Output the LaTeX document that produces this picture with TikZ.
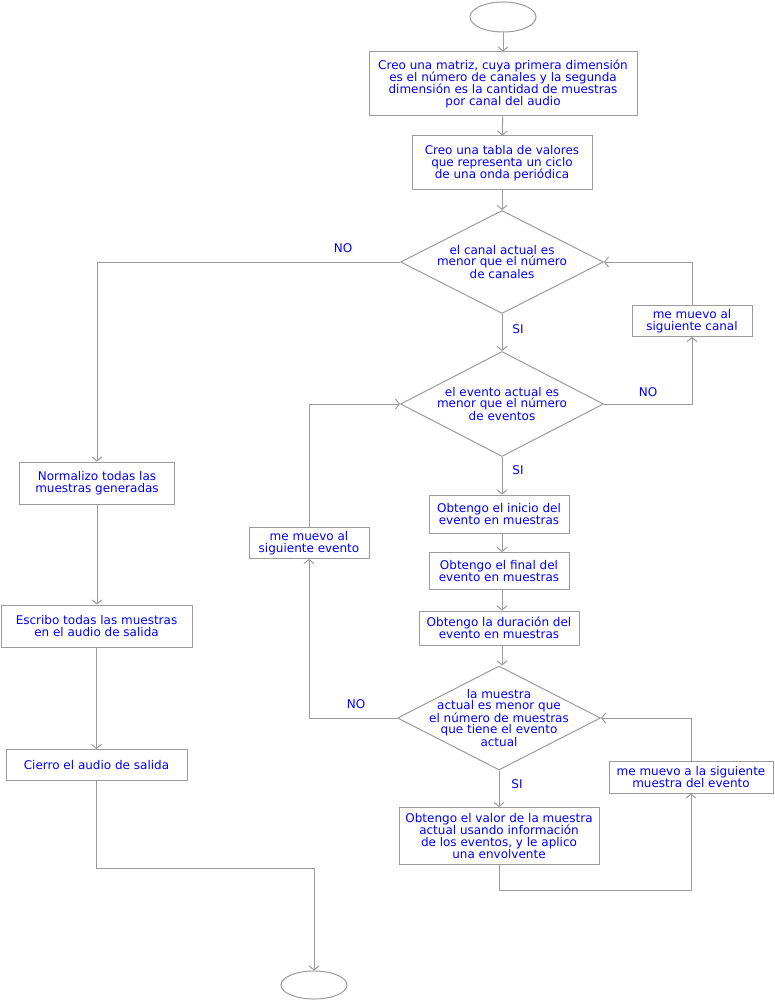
\documentclass[tikz,border=0pt]{standalone}
\usepackage{fontspec}
\setmainfont{DejaVu Sans}
\usetikzlibrary{shapes.geometric,arrows.meta}
\definecolor{linegray}{RGB}{155,155,155}
\definecolor{txtblue}{RGB}{0,0,255}
\tikzset{
  arr/.style={draw=linegray, line width=1pt, -{Straight Barb[length=4pt,width=10pt]}},
  ln/.style={draw=linegray, line width=1pt},
  box/.style={rectangle, draw=linegray, line width=1pt, inner sep=0pt, align=center, text=txtblue, font=\fontsize{12}{12.3}\selectfont},
  dia/.style={diamond, draw=linegray, line width=1pt, inner sep=0pt, minimum width=203pt, minimum height=103pt, aspect=2},
  dtext/.style={align=center, text=txtblue, font=\fontsize{12}{11}\selectfont, inner sep=0pt},
  lbl/.style={text=txtblue, font=\fontsize{12}{12}\selectfont, inner sep=0pt},
  term/.style={ellipse, draw=linegray, line width=1pt, minimum width=66pt, minimum height=30pt, inner sep=0pt},
}
\begin{document}
\begin{tikzpicture}[x=1pt,y=-1pt]
\useasboundingbox (0,0) rectangle (774,1000);
% terminals
\node[term] (start) at (503,17) {};
\node[term, minimum height=28pt] (end) at (314,985) {};
% main column
\node[box, minimum width=268pt, minimum height=64pt] (b1) at (503,84) {Creo una matriz, cuya primera dimensión\\es el número de canales y la segunda\\dimensión es la cantidad de muestras\\por canal del audio};
\node[box, minimum width=180pt, minimum height=54pt] (b2) at (502,163) {Creo una tabla de valores\\que representa un ciclo\\de una onda periódica};
\node[dia] (d1) at (502,262) {};
\node[dtext] (d1t) at (502,262) {el canal actual es\\menor que el número\\de canales};
\node[dia, minimum height=105pt] (d2) at (502,404) {};
\node[dtext] (d2t) at (502,404) {el evento actual es\\menor que el número\\de eventos};
\node[box, minimum width=120pt, minimum height=31pt] (sc) at (692,321) {me muevo al\\siguiente canal};
\node[box, minimum width=140pt, minimum height=38pt] (ini) at (499,514) {Obtengo el inicio del\\evento en muestras};
\node[box, minimum width=140pt, minimum height=37pt] (fin) at (499,571) {Obtengo el final del\\evento en muestras};
\node[box, minimum width=160pt, minimum height=34pt] (dur) at (499,628) {Obtengo la duración del\\evento en muestras};
\node[dia, minimum height=104pt] (d3) at (499,718) {};
\node[dtext] (d3t) at (499,718) {la muestra\\actual es menor que\\el número de muestras\\que tiene el evento\\actual};
\node[box, minimum width=120pt, minimum height=31pt] (se) at (309,543) {me muevo al\\siguiente evento};
\node[box, minimum width=200pt, minimum height=57pt] (val) at (499,836) {Obtengo el valor de la muestra\\actual usando información\\de los eventos, y le aplico\\una envolvente};
\node[box, minimum width=164pt, minimum height=32pt] (sm) at (691,777) {me muevo a la siguiente\\muestra del evento};
% left column
\node[box, minimum width=155pt, minimum height=42pt] (norm) at (97,483) {Normalizo todas las\\muestras generadas};
\node[box, minimum width=191pt, minimum height=42pt] (esc) at (96.5,626) {Escribo todas las muestras\\en el audio de salida};
\node[box, minimum width=181pt, minimum height=31pt] (cie) at (96.5,765) {Cierro el audio de salida};
% labels
\node[lbl] (no1) at (343,248) {NO};
\node[lbl] (si1) at (518,329) {SI};
\node[lbl] (no2) at (648,392) {NO};
\node[lbl] (si2) at (518,470) {SI};
\node[lbl] (no3) at (356,704) {NO};
\node[lbl] (si3) at (517,784) {SI};
% helper coordinates
\coordinate (k1) at (98,868);
\coordinate (k2) at (499,890);
% connectors
\draw[arr] (start) -- (b1);
\draw[arr] (b1) -- (b2);
\draw[arr] (b2.south) -- (d1.north);
\draw[arr] (d1.south) -- (d2.north);
\draw[arr] (d2.east) -| (sc.south);
\draw[arr] (sc.north) |- (d1.east);
\draw[arr] (d1.west) -| (norm.north);
\draw[arr] (norm.south) -- (norm.south |- esc.north);
\draw[arr] (esc.south) -- (esc.south |- cie.north);
\draw[arr] (cie.south) -- (cie.south |- k1) -| (end.north);
\draw[arr] (d2.south) -- (d2.south |- ini.north);
\draw[arr] (ini.south -| d2.south) -- (d2.south |- fin.north);
\draw[arr] (fin.south -| d2.south) -- (d2.south |- dur.north);
\draw[arr] (dur.south -| d2.south) -- (d2.south |- d3.north);
\draw[arr] (d3.west) -| (se.south);
\draw[arr] (se.north) |- (d2.west);
\draw[arr] (d3.south) -- (d3.south |- val.north);
\draw[ln] (val.south) -- (k2);
\draw[arr] (k2) -| (sm.south);
\draw[arr] (sm.north) |- (d3.east);
\end{tikzpicture}
\end{document}
